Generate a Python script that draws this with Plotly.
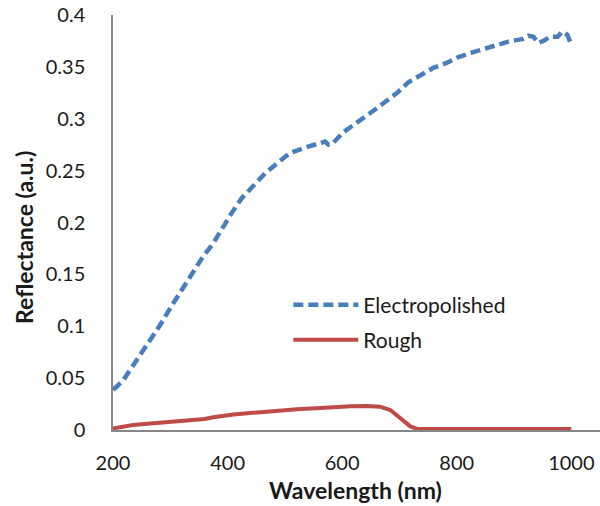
import plotly.graph_objects as go

# Reflectance spectra of the two surface finishes
ep_wavelength = [200, 204, 218, 235, 252, 268, 282, 305, 320, 335, 357, 375, 392, 408,
                 425, 445, 466, 487, 509, 539, 562, 570, 576, 583, 602, 626, 649, 672,
                 696, 715, 736, 759, 783, 803, 824, 845, 864, 876, 894, 906, 916, 925,
                 934, 942, 951, 963, 976, 984, 993, 998]
ep_reflectance = [0.039, 0.0405, 0.048, 0.062, 0.077, 0.090, 0.101, 0.122, 0.135, 0.1475,
                  0.167, 0.180, 0.196, 0.210, 0.2236, 0.236, 0.2477, 0.2573, 0.267, 0.2728,
                  0.277, 0.278, 0.275, 0.276, 0.287, 0.296, 0.3055, 0.315, 0.325, 0.335,
                  0.342, 0.349, 0.354, 0.3595, 0.3634, 0.367, 0.370, 0.372, 0.375, 0.376,
                  0.377, 0.380, 0.379, 0.373, 0.375, 0.379, 0.379, 0.384, 0.381, 0.374]

rough_wavelength = [200, 215, 235, 260, 294, 310, 329, 345, 360, 375, 390, 410, 439, 469,
                    500, 527, 555, 584, 615, 644, 666, 684, 701, 719, 731, 760, 850, 950, 1000]
rough_reflectance = [0.0015, 0.003, 0.0048, 0.006, 0.0075, 0.0085, 0.0088, 0.0095, 0.0107,
                     0.0122, 0.0136, 0.0150, 0.0163, 0.0178, 0.019, 0.0203, 0.021, 0.0222,
                     0.0228, 0.0232, 0.0225, 0.0193, 0.0115, 0.0035, 0.001, 0.001, 0.001,
                     0.001, 0.001]

x_ticks = [200, 400, 600, 800, 1000]

FONT = "Lato"
TEXT = "#1a1a1a"
AXIS = "#878787"

fig = go.Figure()
fig.add_trace(go.Scatter(
    x=ep_wavelength, y=ep_reflectance, mode="lines", name="Electropolished",
    line=dict(color="#4A7EBB", width=4.5, dash="10px,5px"), legend="legend",
))
fig.add_trace(go.Scatter(
    x=rough_wavelength, y=rough_reflectance, mode="lines", name="Rough",
    line=dict(color="#BE4B48", width=4), legend="legend2",
))

legend_common = dict(xanchor="left", yanchor="middle", bgcolor="rgba(0,0,0,0)",
                     font=dict(family=FONT, size=21, color=TEXT), itemwidth=65)

fig.update_layout(
    width=600, height=506,
    margin=dict(l=113, r=0, t=15, b=76),
    paper_bgcolor="white", plot_bgcolor="white",
    font=dict(family=FONT, size=20, color=TEXT),
    showlegend=True,
    legend=dict(x=0.36, y=(430 - 305) / 415, **legend_common),
    legend2=dict(x=0.36, y=(430 - 340) / 415, **legend_common),
    xaxis=dict(range=[200, 1050], tickvals=x_ticks, showgrid=False, zeroline=False,
               showline=True, linecolor=AXIS, linewidth=1.5, ticks="",
               ticklabelstandoff=14, tickfont=dict(size=20, color=TEXT)),
    yaxis=dict(range=[0, 0.4], dtick=0.05, showgrid=False, zeroline=False,
               showline=True, linecolor=AXIS, linewidth=1.5, ticks="",
               ticklabelstandoff=22, tickfont=dict(size=20, color=TEXT)),
    annotations=[
        dict(text="<b>Wavelength (nm)</b>", xref="paper", yref="paper",
             x=(355 - 113) / 487, y=-(490 - 430) / 415, xanchor="center", yanchor="middle",
             showarrow=False, font=dict(family=FONT, size=23, color=TEXT)),
        dict(text="<b>Reflectance (a.u.)</b>", xref="paper", yref="paper",
             x=-(113 - 24) / 487, y=(430 - 238) / 415, xanchor="center", yanchor="middle",
             textangle=-90, showarrow=False, font=dict(family=FONT, size=23, color=TEXT)),
    ],
)

fig.write_html("out.html")
